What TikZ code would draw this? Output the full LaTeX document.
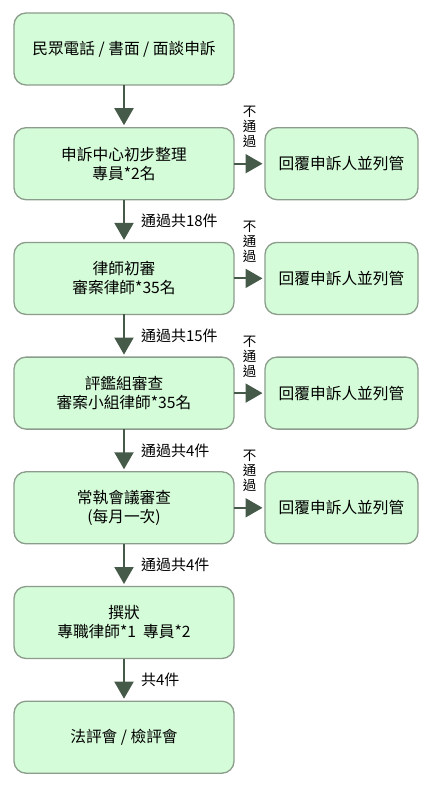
\documentclass[tikz,border=0pt]{standalone}
\usepackage{fontspec}
\newfontfamily\cjk{Noto Sans CJK TC}
\usetikzlibrary{positioning,arrows.meta}
\definecolor{boxfill}{HTML}{D5FCD8}
\definecolor{boxline}{HTML}{8C9C8C}
\definecolor{flowline}{HTML}{455A48}
\tikzset{
  stage/.style={
    draw=boxline,
    line width=1.3pt,
    fill=boxfill,
    rounded corners=12pt,
    minimum width=220pt,
    minimum height=72pt,
    inner sep=0pt,
    outer sep=0pt,
    font=\cjk\fontsize{15.7}{19}\selectfont,
    align=center
  },
  reply/.style={stage, minimum width=153pt},
  flow/.style={draw=flowline, line width=2pt, -{Triangle[width=19pt,length=17pt]}, shorten >=2.5pt},
  cnt/.style={font=\cjk\fontsize{15}{16}\selectfont, inner sep=0pt, anchor=west},
  fail/.style={font=\cjk\fontsize{13.5}{15}\selectfont, inner sep=0pt, align=center},
}

\begin{document}
\begin{tikzpicture}[x=1pt,y=1pt]
  \useasboundingbox (0,0) rectangle (430,-786);
  % main column
  \node[stage] (S1) at (124,-49) {民眾電話 / 書面 / 面談申訴};
  \node[stage, below=42.7pt of S1] (S2) {申訴中心初步整理\\專員*2名};
  \node[stage, below=42.7pt of S2] (S3) {律師初審\\審案律師*35名};
  \node[stage, below=42.7pt of S3] (S4) {評鑑組審查\\審案小組律師*35名};
  \node[stage, below=42.7pt of S4] (S5) {常執會議審查\\(每月一次)};
  \node[stage, below=42.7pt of S5] (S6) {撰狀\\專職律師*1\ \ 專員*2};
  \node[stage, below=42.7pt of S6] (S7) {法評會 / 檢評會};
  \draw[flow] (S1) -- (S2);
  \draw[flow] (S2) -- node[cnt, xshift=16pt] (P3) {通過共18件} (S3);
  \draw[flow] (S3) -- node[cnt, xshift=16pt] (P4) {通過共15件} (S4);
  \draw[flow] (S4) -- node[cnt, xshift=16pt] (P5) {通過共4件} (S5);
  \draw[flow] (S5) -- node[cnt, xshift=16pt] (P6) {通過共4件} (S6);
  \draw[flow] (S6) -- node[cnt, xshift=16pt] (P7) {共4件} (S7);
  % rejected cases
  \foreach \k in {2,...,5} {
    \node[reply, right=31pt of S\k] (R\k) {回覆申訴人並列管};
    \draw[flow] (S\k) -- node[fail, above=15pt] (F\k) {不\\通\\過} (R\k);
  }
\end{tikzpicture}
\end{document}
